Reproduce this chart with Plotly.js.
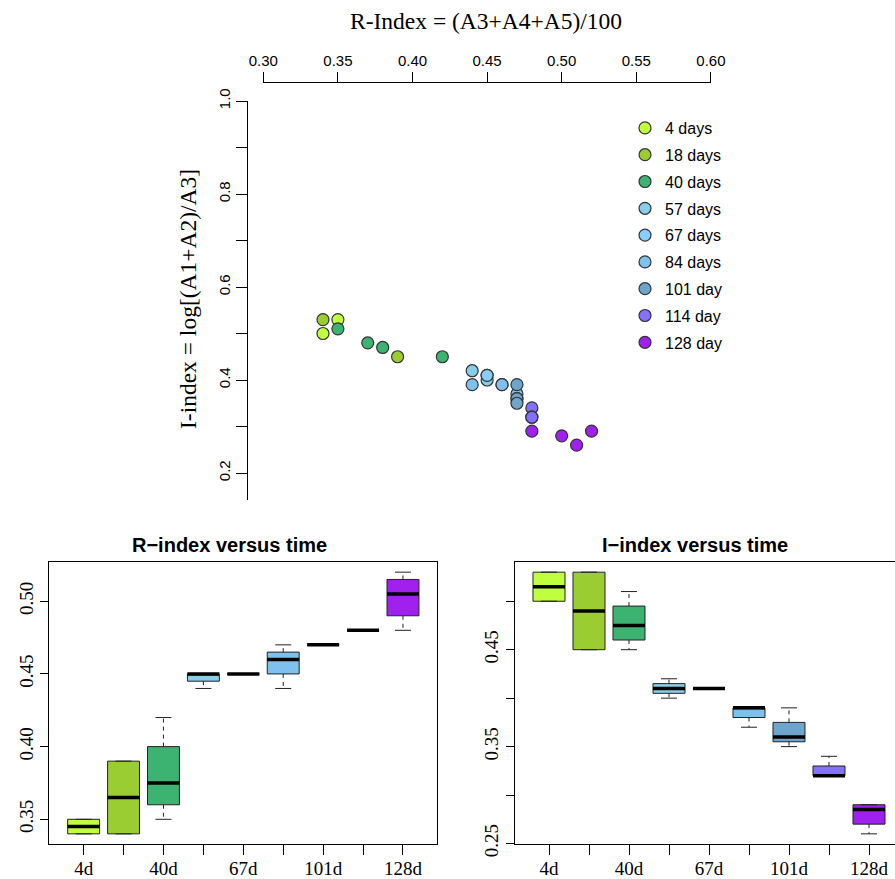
<!DOCTYPE html>
<html><head><meta charset="utf-8">
<script src="https://cdn.plot.ly/plotly-3.0.1.min.js"></script>
<style>html,body{margin:0;padding:0;background:#fff;overflow:hidden}#chart{width:895px;height:879px}</style>
</head><body><div id="chart"></div>
<script>
// ---- data ----
const groupNames  = ["4 days","18 days","40 days","57 days","67 days","84 days","101 day","114 day","128 day"];
const boxLabels   = ["4d","","40d","","67d","","101d","","128d"];
const groupColors = ["#C0FF3E","#9ACD32","#3CB371","#87CEEB","#87CEFA","#7EC0EE","#6CA6CD","#8470FF","#A020F0"];
const rIdx4   = [0.35, 0.34];            const iIdx4   = [0.53, 0.50];
const rIdx18  = [0.34, 0.39];            const iIdx18  = [0.53, 0.45];
const rIdx40  = [0.35, 0.37, 0.38, 0.42]; const iIdx40  = [0.51, 0.48, 0.47, 0.45];
const rIdx57  = [0.44, 0.45, 0.45];      const iIdx57  = [0.42, 0.41, 0.40];
const rIdx67  = [0.45];                  const iIdx67  = [0.41];
const rIdx84  = [0.44, 0.46, 0.46, 0.47]; const iIdx84  = [0.39, 0.39, 0.39, 0.37];
const rIdx101 = [0.47, 0.47, 0.47, 0.47]; const iIdx101 = [0.39, 0.36, 0.36, 0.35];
const rIdx114 = [0.48, 0.48, 0.48];      const iIdx114 = [0.34, 0.32, 0.32];
const rIdx128 = [0.48, 0.50, 0.51, 0.52]; const iIdx128 = [0.29, 0.28, 0.26, 0.29];
const xTickVals = [0.30, 0.35, 0.40, 0.45, 0.50, 0.55, 0.60];
const yTickVals = [0.2, 0.3, 0.4, 0.5, 0.6, 0.7, 0.8, 0.9, 1.0];
const yTickText = ["0.2", "", "0.4", "", "0.6", "", "0.8", "", "1.0"];
const rBoxTicks = [0.35, 0.40, 0.45, 0.50];
const iBoxTicks = [0.25, 0.30, 0.35, 0.40, 0.45, 0.50];
const iBoxTickText = ["0.25", "", "0.35", "", "0.45", ""];

const rGroups = [rIdx4, rIdx18, rIdx40, rIdx57, rIdx67, rIdx84, rIdx101, rIdx114, rIdx128];
const iGroups = [iIdx4, iIdx18, iIdx40, iIdx57, iIdx67, iIdx84, iIdx101, iIdx114, iIdx128];

// Tukey five-number summary (as R's boxplot uses)
function fivenum(v) {
  const x = v.slice().sort((a, b) => a - b), n = x.length;
  const n4 = Math.floor((n + 3) / 2) / 2;
  const d = [1, n4, (n + 1) / 2, n + 1 - n4, n];
  return d.map(k => 0.5 * (x[Math.floor(k) - 1] + x[Math.ceil(k) - 1]));
}

const W = 895, H = 879;
const px = v => v / W, py = v => 1 - v / H;
const sans = "Liberation Sans, Arial, Helvetica, sans-serif";
const serif = "Liberation Serif, Times New Roman, serif";

const traces = [];
// scatter (top)
groupNames.forEach((g, i) => {
  traces.push({
    type: "scatter", mode: "markers", name: g, x: rGroups[i], y: iGroups[i],
    xaxis: "x", yaxis: "y", legendgroup: g,
    marker: {size: 12, color: groupColors[i], line: {color: "#333", width: 1.2}},
    hoverinfo: "x+y"
  });
});

function boxPanel(groups, xa, ya) {
  const med = {x: [], y: []}, whisk = {x: [], y: []}, caps = {x: [], y: []};
  groups.forEach((vals, i) => {
    const s = fivenum(vals), p = i + 1;
    traces.push({
      type: "box", x: [p], q1: [s[1]], median: [s[2]], q3: [s[3]],
      lowerfence: [s[1]], upperfence: [s[3]], width: 0.8, whiskerwidth: 0,
      fillcolor: groupColors[i], line: {color: "#222", width: 1},
      xaxis: xa, yaxis: ya, showlegend: false, hoverinfo: "skip"
    });
    med.x.push(p - 0.4, p + 0.4, null); med.y.push(s[2], s[2], null);
    whisk.x.push(p, p, null, p, p, null); whisk.y.push(s[3], s[4], null, s[1], s[0], null);
    caps.x.push(p - 0.2, p + 0.2, null, p - 0.2, p + 0.2, null);
    caps.y.push(s[4], s[4], null, s[0], s[0], null);
  });
  traces.push({type: "scatter", mode: "lines", x: whisk.x, y: whisk.y, xaxis: xa, yaxis: ya,
    line: {color: "#222", width: 1, dash: "4px,4px"}, showlegend: false, hoverinfo: "skip"});
  traces.push({type: "scatter", mode: "lines", x: caps.x, y: caps.y, xaxis: xa, yaxis: ya,
    line: {color: "#222", width: 1}, showlegend: false, hoverinfo: "skip"});
  traces.push({type: "scatter", mode: "lines", x: med.x, y: med.y, xaxis: xa, yaxis: ya,
    line: {color: "#000", width: 3.5}, showlegend: false, hoverinfo: "skip"});
}
boxPanel(rGroups, "x2", "y2");
boxPanel(iGroups, "x3", "y3");

const axBase = {showgrid: false, zeroline: false, showline: true, linecolor: "#000", linewidth: 1,
  ticks: "outside", tickcolor: "#000", tickwidth: 1, fixedrange: true};
const catVals = boxLabels.map((_, i) => i + 1);

const layout = {
  width: W, height: H, margin: {l: 0, r: 0, t: 0, b: 0},
  paper_bgcolor: "#fff", plot_bgcolor: "rgba(0,0,0,0)",
  showlegend: true, boxmode: "overlay",
  legend: {x: px(625), y: py(111), xanchor: "left", yanchor: "top", bgcolor: "rgba(0,0,0,0)",
    font: {family: sans, size: 16, color: "#000"}, tracegroupgap: 3, itemclick: false, itemdoubleclick: false},
  xaxis: Object.assign({}, axBase, {domain: [px(263.3), px(710.9)], range: [0.30, 0.60],
    anchor: "free", position: py(82.3), side: "top", tickvals: xTickVals,
    ticktext: xTickVals.map(v => v.toFixed(2)), ticklen: 10,
    tickfont: {family: sans, size: 15, color: "#000"}}),
  yaxis: Object.assign({}, axBase, {domain: [py(500), py(101)], range: [0.142, 1.0],
    anchor: "free", position: px(246.7), tickvals: yTickVals, ticktext: yTickText, ticklen: 11,
    tickangle: -90, tickfont: {family: sans, size: 15, color: "#000"}}),
  xaxis2: Object.assign({}, axBase, {domain: [px(49.3), px(437.3)], range: [0.14, 9.86], anchor: "y2",
    mirror: true, tickvals: catVals, ticktext: boxLabels, ticklen: 10, ticklabelstandoff: -3,
    tickfont: {family: serif, size: 19, color: "#000"}}),
  yaxis2: Object.assign({}, axBase, {domain: [py(844.3), py(561.7)], range: [0.3328, 0.5272], anchor: "x2",
    mirror: true, tickvals: rBoxTicks, ticktext: rBoxTicks.map(v => v.toFixed(2)), ticklen: 8,
    tickangle: -90, tickfont: {family: serif, size: 19, color: "#000"}}),
  xaxis3: Object.assign({}, axBase, {domain: [px(514.6), 1], range: [0.14, 9.65], anchor: "y3",
    mirror: true, tickvals: catVals, ticktext: boxLabels, ticklen: 10, ticklabelstandoff: -3,
    tickfont: {family: serif, size: 19, color: "#000"}}),
  yaxis3: Object.assign({}, axBase, {domain: [py(844.3), py(561.7)], range: [0.2492, 0.5408], anchor: "x3",
    tickvals: iBoxTicks, ticktext: iBoxTickText, ticklen: 8,
    tickangle: -90, tickfont: {family: serif, size: 19, color: "#000"}}),
  annotations: [
    {text: "R-Index = (A3+A4+A5)/100", xref: "paper", yref: "paper", x: px(486), y: py(21),
      xanchor: "center", yanchor: "middle", showarrow: false, font: {family: serif, size: 23.5, color: "#000"}},
    {text: "I-index = log[(A1+A2)/A3]", xref: "paper", yref: "paper", x: px(188), y: py(299),
      xanchor: "center", yanchor: "middle", textangle: -90, showarrow: false,
      font: {family: serif, size: 23.5, color: "#000"}},
    {text: "<b>R\u2212index versus time</b>", xref: "paper", yref: "paper", x: px(229), y: py(545),
      xanchor: "center", yanchor: "middle", showarrow: false, font: {family: sans, size: 20, color: "#000"}},
    {text: "<b>I\u2212index versus time</b>", xref: "paper", yref: "paper", x: px(695), y: py(545),
      xanchor: "center", yanchor: "middle", showarrow: false, font: {family: sans, size: 20, color: "#000"}}
  ]
};

Plotly.newPlot("chart", traces, layout, {displayModeBar: false, staticPlot: false, responsive: false});
</script>
</body></html>
